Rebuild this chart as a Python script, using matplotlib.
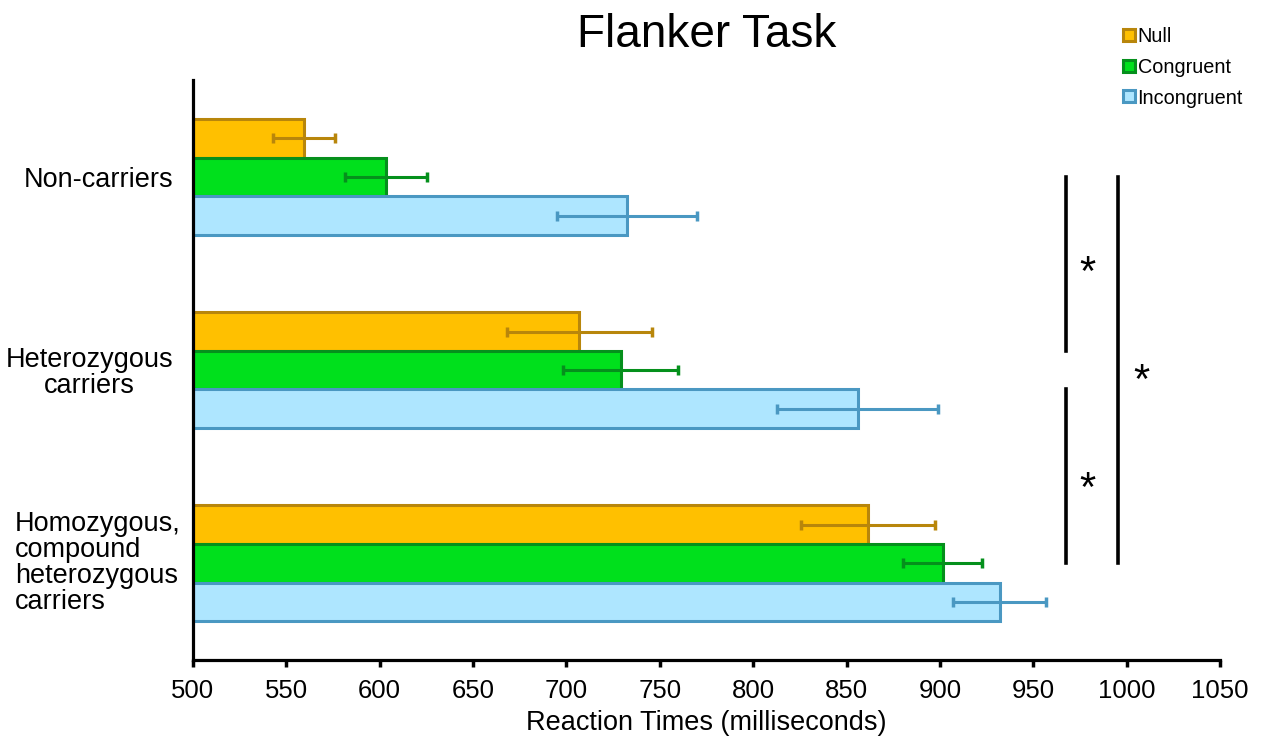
import numpy as np
import matplotlib
matplotlib.use("Agg")
import matplotlib.pyplot as plt

plt.rcParams["font.family"] = ["Liberation Sans", "DejaVu Sans"]

grupos = ["Non-carriers", "Heterozygous\ncarriers", "Homozygous,\ncompound\nheterozygous\ncarriers"]
condicoes = ["Null", "Congruent", "Incongruent"]

media_null = [559.5, 707.0, 861.5]
media_congruent = [603.5, 729.0, 901.5]
media_incongruent = [732.5, 856.0, 932.0]

erro_null = [16.5, 39.0, 36.0]
erro_congruent = [22.0, 31.0, 21.0]
erro_incongruent = [37.5, 43.0, 25.0]

xticks = [500, 550, 600, 650, 700, 750, 800, 850, 900, 950, 1000, 1050]

cores_fill = ["#FFC000", "#00E01C", "#AEE6FF"]
cores_borda = ["#B8860B", "#05901C", "#4A98C2"]

medias = [media_null, media_congruent, media_incongruent]
erros = [erro_null, erro_congruent, erro_incongruent]

fig = plt.figure(figsize=(12.61, 7.49), dpi=100)
ax = fig.add_axes([0.153, 0.1188, 0.8145, 0.774])

y = np.arange(len(grupos))
altura = 0.2
for i, cond in enumerate(condicoes):
    ax.barh(y + (i - 1) * altura, np.array(medias[i]) - 500, left=500, height=altura,
            color=cores_fill[i], edgecolor=cores_borda[i], linewidth=2.2, label=cond,
            zorder=2)
    ax.errorbar(medias[i], y + (i - 1) * altura, xerr=erros[i], fmt="none",
                ecolor=cores_borda[i], elinewidth=2.2, capsize=3.5, capthick=2.5, zorder=3)

ax.set_xlim(500, 1050)
ax.set_ylim(2.5, -0.5)
ax.set_xticks(xticks)
ax.set_xticklabels([str(t) for t in xticks], fontsize=18.5)
ax.set_yticks(y)
# o ultimo rotulo fica alinhado a esquerda e mais perto do eixo
ax.set_yticklabels(grupos[:2] + [""], fontsize=19.5, linespacing=1.0)
for lab in ax.get_yticklabels():
    lab.set_multialignment("center")
ax.text(-0.012, y[2], grupos[2], transform=ax.get_yaxis_transform(), ha="right", va="center",
        multialignment="left", fontsize=19.5, linespacing=1.0)
ax.tick_params(axis="y", length=0, pad=14)
ax.tick_params(axis="x", direction="out", length=5, width=2.5, pad=9)
ax.set_xlabel("Reaction Times (milliseconds)", fontsize=19.5, labelpad=5)

for s in ["top", "right"]:
    ax.spines[s].set_visible(False)
for s in ["left", "bottom"]:
    ax.spines[s].set_linewidth(2.3)

ax.set_title("Flanker Task", fontsize=33, pad=24)

# barras de significancia
ax.plot([967.5, 967.5], [0.0, 0.9], color="black", lw=2.6, clip_on=False)
ax.plot([967.5, 967.5], [1.1, 2.0], color="black", lw=2.6, clip_on=False)
ax.plot([995.5, 995.5], [0.0, 2.0], color="black", lw=2.6, clip_on=False)
ax.text(979, 0.5, "*", fontsize=30, ha="center", va="center")
ax.text(1008, 1.06, "*", fontsize=30, ha="center", va="center")
ax.text(979, 1.62, "*", fontsize=30, ha="center", va="center")

leg = fig.legend(loc="upper left", bbox_to_anchor=(0.884, 0.975), frameon=False,
                 fontsize=14.3, handlelength=0.6, handleheight=0.55,
                 handletextpad=0.15, labelspacing=0.6, borderaxespad=0)

fig.savefig("out.png", dpi=100)
